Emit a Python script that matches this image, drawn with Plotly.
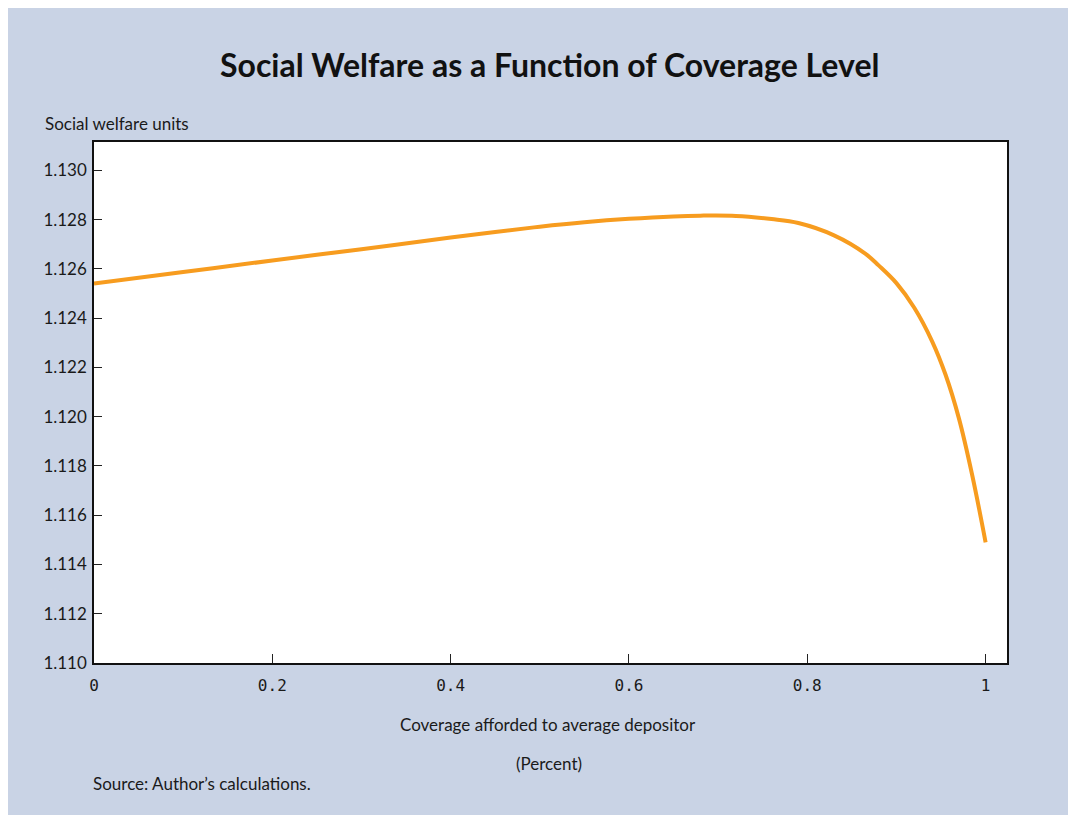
import plotly.graph_objects as go

# Data
coverage = [0.0, 0.1, 0.2, 0.3, 0.4, 0.45, 0.5, 0.55, 0.6, 0.65, 0.68, 0.72, 0.76,
            0.79, 0.83, 0.865, 0.88, 0.90, 0.92, 0.94, 0.955, 0.97, 0.985, 1.0]
welfare = [1.12540, 1.12587, 1.12634, 1.12680, 1.12727, 1.12750, 1.12771, 1.12789,
           1.12803, 1.12813, 1.12816, 1.12815, 1.12802, 1.12786, 1.12736, 1.12662,
           1.12614, 1.12542, 1.12442, 1.12306, 1.12171, 1.11994, 1.11762, 1.11490]

x_ticks = [0, 0.2, 0.4, 0.6, 0.8, 1]
x_ticklabels = ["0", "0.2", "0.4", "0.6", "0.8", "1"]
y_ticks = [1.110, 1.112, 1.114, 1.116, 1.118, 1.120, 1.122, 1.124, 1.126, 1.128, 1.130]
y_ticklabels = ["%.3f" % v for v in y_ticks]

BLUE = "#C9D3E5"
ORANGE = "#F79C1F"
FONT = "Lato"
TXT = "#1a1a1a"

fig = go.Figure()
fig.add_trace(go.Scatter(
    x=coverage, y=welfare, mode="lines",
    line=dict(color=ORANGE, width=4, shape="spline", smoothing=1.0),
    hoverinfo="x+y", showlegend=False,
))

# page body adds an 8px offset; figure coordinates = reference pixels - 8
OX, OY = 8, 8
W, H = 1064, 807
L, R, T, B = 86, 65, 134, 152
pw, ph = W - L - R, H - T - B

def px(xp):
    return (xp - OX - L) / pw

def py(yp):
    return (H - B - (yp - OY)) / ph

fig.update_layout(
    width=W, height=H,
    margin=dict(l=L, r=R, t=T, b=B, pad=0),
    paper_bgcolor=BLUE,
    plot_bgcolor="white",
    font=dict(family=FONT, size=17, color=TXT),
    xaxis=dict(
        range=[0, 1.024], tickvals=x_ticks, ticktext=x_ticklabels,
        ticks="inside", ticklen=9, tickwidth=1, tickcolor="#222",
        showline=True, linecolor="#111", linewidth=1.5, mirror=True,
        showgrid=False, zeroline=False, ticklabelstandoff=7,
        tickfont=dict(family="DejaVu Sans Mono", size=16, color=TXT),
    ),
    yaxis=dict(
        range=[1.110, 1.13115], tickvals=y_ticks, ticktext=y_ticklabels,
        ticks="inside", ticklen=8, tickwidth=1, tickcolor="#222",
        showline=True, linecolor="#111", linewidth=1.5, mirror=True,
        showgrid=False, zeroline=False, ticklabelstandoff=2,
        tickfont=dict(family=FONT, size=17, color=TXT),
    ),
    annotations=[
        dict(text="<b>Social Welfare as a Function of Coverage Level</b>",
             xref="paper", yref="paper", x=px(549), y=py(64),
             xanchor="center", yanchor="middle", showarrow=False,
             font=dict(family=FONT, size=32, color="#111")),
        dict(text="Social welfare units", xref="paper", yref="paper",
             x=px(43), y=py(124), xanchor="left", yanchor="middle",
             showarrow=False, font=dict(family=FONT, size=17)),
        dict(text="Coverage afforded to average depositor", xref="paper", yref="paper",
             x=px(548), y=py(724), xanchor="center", yanchor="middle",
             showarrow=False, font=dict(family=FONT, size=17)),
        dict(text="(Percent)", xref="paper", yref="paper",
             x=px(549), y=py(763), xanchor="center", yanchor="middle",
             showarrow=False, font=dict(family=FONT, size=17)),
        dict(text="Source: Author\u2019s calculations.", xref="paper", yref="paper",
             x=px(91), y=py(783), xanchor="left", yanchor="middle",
             showarrow=False, font=dict(family=FONT, size=17)),
    ],
)

fig.write_html("out.html")
